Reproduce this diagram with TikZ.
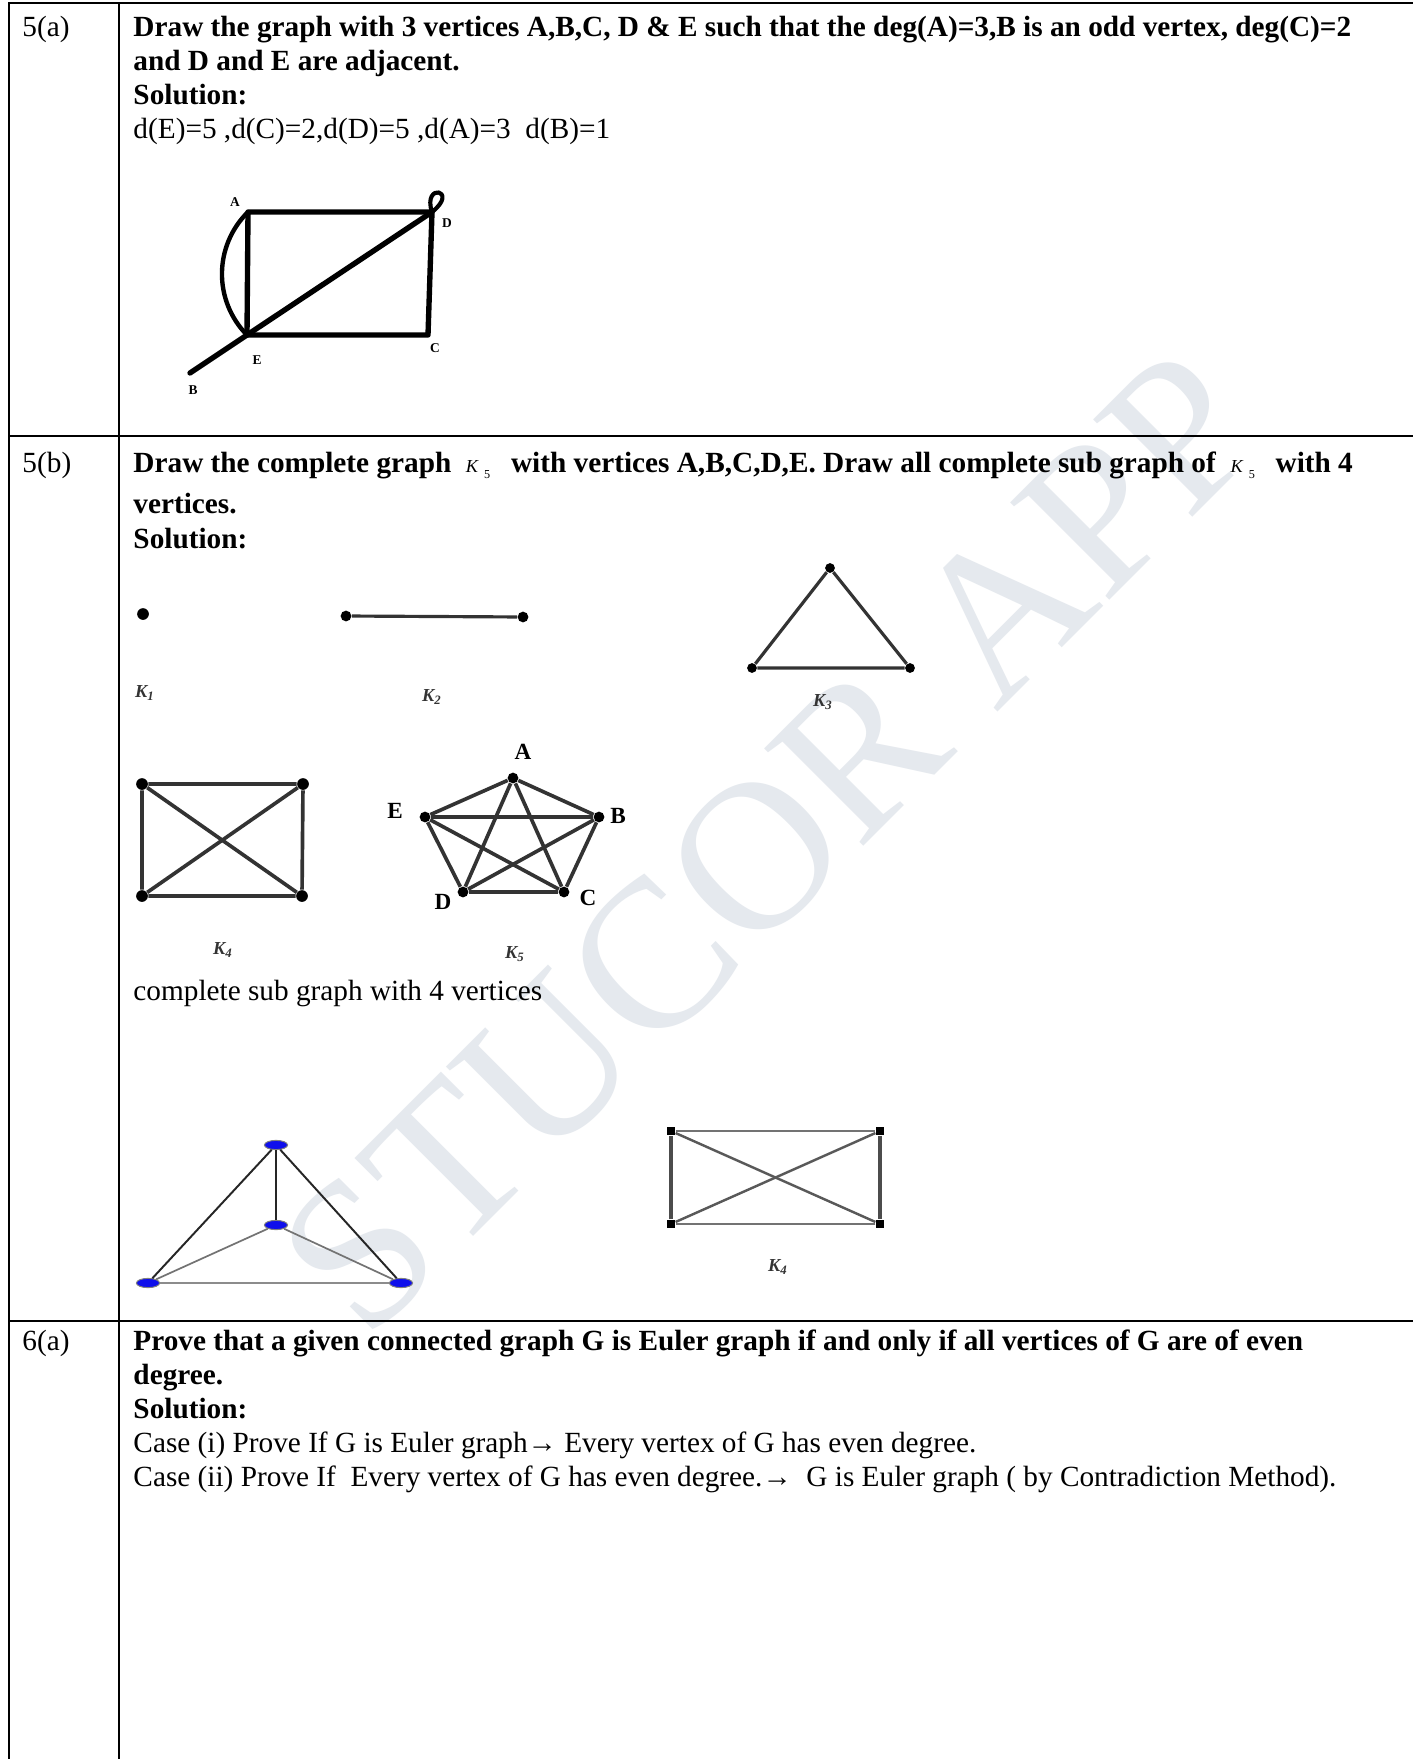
\documentclass[tikz,border=0pt]{standalone}
\usepackage{fontspec}
\setmainfont{Liberation Serif}
\usetikzlibrary{positioning,shapes.geometric}

\definecolor{wmgray}{RGB}{229,233,238}
\definecolor{vblue}{RGB}{15,15,235}

\newcommand{\kfive}{\hspace{6pt}{\fontsize{7.5}{9}\selectfont\mdseries\itshape K}\hspace{2.5pt}\raisebox{-2.5pt}{\fontsize{5}{6}\selectfont\mdseries 5}\hspace{8.5pt}}

\begin{document}
\fontsize{12}{13.8}\selectfont
\begin{tikzpicture}[
    x=0.41pt,y=-0.41pt,
    rule/.style={draw=black,line width=0.7pt},
    qtext/.style={anchor=base west,inner sep=0pt,font=\bfseries},
    atext/.style={anchor=base west,inner sep=0pt},
    heavy/.style={line width=2.2pt,line cap=round,line join=round},
    vlab/.style={inner sep=0pt,font=\fontsize{5.5}{6}\selectfont\bfseries},
    plab/.style={inner sep=0pt,font=\fontsize{9.5}{11}\selectfont\bfseries},
    klab/.style={inner sep=0pt,text=black!80,font=\fontsize{7.5}{8}\selectfont\bfseries\itshape},
    dot/.style={circle,fill=black,inner sep=0pt,minimum size=4.4pt},
    sqdot/.style={rectangle,fill=black,inner sep=0pt,minimum size=3.4pt},
    bluedot/.style={ellipse,draw=black!50,fill=vblue,inner sep=0pt,minimum width=9.5pt,minimum height=3.8pt},
    kedge/.style={draw=black!80,line width=1.5pt},
    tdark/.style={draw=black!85,line width=0.8pt},
    tgray/.style={draw=black!55,line width=0.7pt}
  ]
  \useasboundingbox (0,0) rectangle (1413,1759);
  \fill[white] (0,0) rectangle (1413,1759);
  % watermark
  \node[text=wmgray,rotate=45,inner sep=0pt,font=\fontsize{87}{92}\selectfont] (wm) at (770,842) {STUCOR APP};

  % table rules
  \draw[rule] (9,1759) -- (9,3) -- (1413,3);
  \draw[rule] (119,3) -- (119,1759);
  \draw[rule] (9,436) -- (1413,436);
  \draw[rule] (9,1321) -- (1413,1321);

  % 5(a)
  \node[atext] (n5a) at (22,37) {5(a)};
  \node[qtext] (q5a1) at (133,37) {Draw the graph with 3 vertices A,B,C, D \& E such that the deg(A)=3,B is an odd vertex, deg(C)=2};
  \node[qtext] (q5a2) at (133,71) {and D and E are adjacent.};
  \node[qtext] (s5a) at (133,105) {Solution:};
  \node[atext] (deg5a) at (133,139) {d(E)=5 ,d(C)=2,d(D)=5 ,d(A)=3~ d(B)=1};

  \coordinate (A) at (248,212);
  \coordinate (D) at (432,212);
  \coordinate (E) at (247,335);
  \coordinate (C) at (428,335);
  \coordinate (B) at (190,373);
  \draw[heavy] (A) -- (D) -- (C) -- (E) -- cycle;
  \draw[heavy] (E) -- (D);
  \draw[heavy] (E) -- (B);
  \draw[heavy,line width=1.8pt] (A) to[bend right=45] (E);
  \draw[heavy,line width=1.7pt] (D) .. controls +(-10,-30) and +(28,-22) .. (D);
  \node[vlab] (lA) at (235,202) {A};
  \node[vlab] (lD) at (447,223) {D};
  \node[vlab] (lC) at (435,348) {C};
  \node[vlab] (lE) at (257,360) {E};
  \node[vlab] (lB) at (193,390) {B};

  % 5(b)
  \node[atext] (n5b) at (22,472) {5(b)};
  \node[qtext] (q5b1) at (133,472) {Draw the complete graph\kfive with vertices A,B,C,D,E. Draw all complete sub graph of\kfive with 4};
  \node[qtext] (q5b2) at (133,513) {vertices.};
  \node[qtext] (s5b) at (133,548) {Solution:};

  % K1, K2, K3
  \node[dot,minimum size=4.8pt] (k1) at (143,614) {};
  \node[klab] (lk1) at (145,693) {K\textsubscript{1}};
  \node[dot] (k2a) at (346,616) {};
  \node[dot] (k2b) at (523,617) {};
  \draw[kedge,line width=1.3pt] (k2a) -- (k2b);
  \node[klab] (lk2) at (432,697) {K\textsubscript{2}};
  \node[dot,minimum size=4pt] (k3a) at (830,568) {};
  \node[dot,minimum size=4pt] (k3b) at (752,668) {};
  \node[dot,minimum size=4pt] (k3c) at (910,668) {};
  \draw[kedge,line width=1.3pt] (k3a) -- (k3b) -- (k3c) -- (k3a);
  \node[klab] (lk3) at (823,702) {K\textsubscript{3}};

  % K4
  \node[dot,minimum size=4.8pt] (p1) at (142,784) {};
  \node[dot,minimum size=4.8pt] (p2) at (303,784) {};
  \node[dot,minimum size=4.8pt] (p3) at (302,896) {};
  \node[dot,minimum size=4.8pt] (p4) at (142,896) {};
  \draw[kedge] (p1) -- (p2) -- (p3) -- (p4) -- (p1);
  \draw[kedge] (p1) -- (p3);
  \draw[kedge] (p2) -- (p4);
  \node[klab] (lk4) at (223,950) {K\textsubscript{4}};

  % K5
  \node[dot] (vA) at (513,778) {};
  \node[dot] (vB) at (599,817) {};
  \node[dot] (vC) at (564,892) {};
  \node[dot] (vD) at (463,892) {};
  \node[dot] (vE) at (425,817) {};
  \foreach \u/\v in {vA/vB,vA/vC,vA/vD,vA/vE,vB/vC,vB/vD,vB/vE,vC/vD,vC/vE,vD/vE}
    \draw[kedge] (\u) -- (\v);
  \node[plab] (lvA) at (523,752) {A};
  \node[plab] (lvB) at (618,816) {B};
  \node[plab] (lvC) at (588,898) {C};
  \node[plab] (lvD) at (443,902) {D};
  \node[plab] (lvE) at (395,811) {E};
  \node[klab] (lk5) at (515,954) {K\textsubscript{5}};

  \node[atext] (sub4) at (133,1000) {complete sub graph with 4 vertices};

  % tetrahedron
  \node[bluedot] (t1) at (276,1145) {};
  \node[bluedot] (t2) at (276,1225) {};
  \node[bluedot] (t3) at (148,1283) {};
  \node[bluedot] (t4) at (401,1283) {};
  \draw[tdark] (t1) -- (t3);
  \draw[tdark] (t1) -- (t4);
  \draw[tdark] (t1) -- (t2);
  \draw[tgray] (t2) -- (t3);
  \draw[tgray] (t2) -- (t4);
  \draw[tgray,draw=black!45] (t3) -- (t4);

  % second K4
  \node[sqdot] (r1) at (671,1131) {};
  \node[sqdot] (r2) at (880,1131) {};
  \node[sqdot] (r3) at (880,1224) {};
  \node[sqdot] (r4) at (671,1224) {};
  \draw[kedge,draw=black!55,line width=1.2pt] (r1) -- (r2);
  \draw[kedge,draw=black!55,line width=1.2pt] (r3) -- (r4);
  \draw[kedge,draw=black!70,line width=1.6pt] (r2) -- (r3);
  \draw[kedge,draw=black!70,line width=1.6pt] (r4) -- (r1);
  \draw[kedge,draw=black!65,line width=1pt] (r1) -- (r3);
  \draw[kedge,draw=black!65,line width=1pt] (r2) -- (r4);
  \node[klab] (lk4b) at (778,1267) {K\textsubscript{4}};

  % 6(a)
  \node[atext] (n6a) at (22,1350) {6(a)};
  \node[qtext] (q6a1) at (133,1350) {Prove that a given connected graph G is Euler graph if and only if all vertices of G are of even};
  \node[qtext] (q6a2) at (133,1384) {degree.};
  \node[qtext] (s6a) at (133,1418) {Solution:};
  \node[atext] (c1) at (133,1452) {Case (i) Prove If G is Euler graph→ Every vertex of G has even degree.};
  \node[atext] (c2) at (133,1486) {Case (ii) Prove If~ Every vertex of G has even degree.→~ G is Euler graph ( by Contradiction Method).};
\end{tikzpicture}
\end{document}
